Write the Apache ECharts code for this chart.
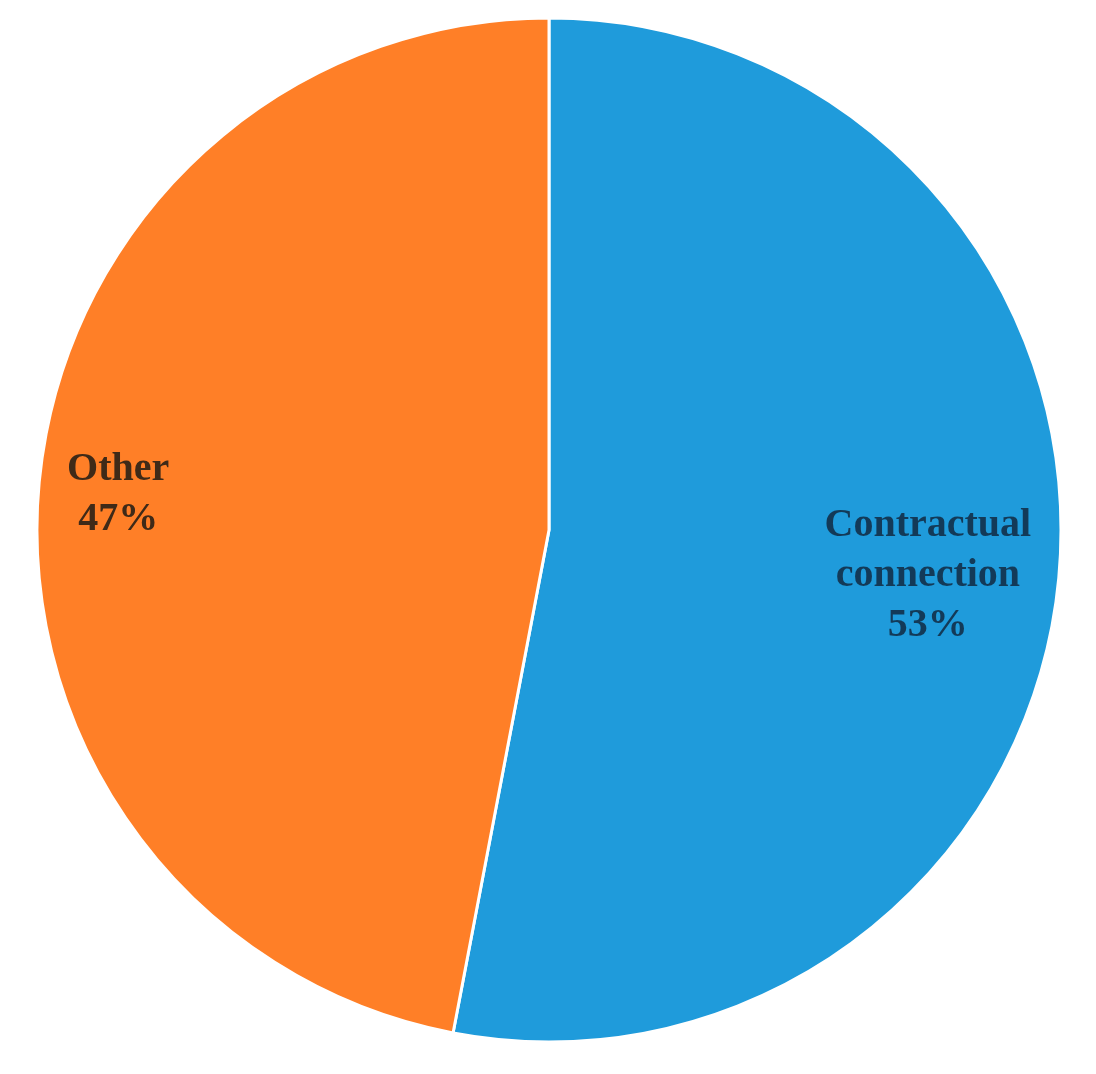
<!DOCTYPE html>
<html>
<head>
<meta charset="utf-8">
<script src="https://cdn.jsdelivr.net/npm/echarts@6/dist/echarts.min.js"></script>
<style>
  html, body { margin: 0; padding: 0; background: #fff; }
  #chart { width: 1096px; height: 1074px; }
</style>
</head>
<body>
<div id="chart"></div>
<script>
  // 饼图数据
  var categories = ['Contractual\nconnection', 'Other'];
  var shares = [53, 47];
  var colorList = ['#1f9bdb', '#ff7f27'];
  var labelColors = ['#133a58', '#3f2a18'];
  // 标签偏移（相对于扇区内部默认位置）
  var labelOffsets = [[121, 21], [-173, -11]];

  var chart = echarts.init(document.getElementById('chart'));

  var seriesData = categories.map(function (name, i) {
    return {
      name: name,
      value: shares[i],
      itemStyle: { color: colorList[i] },
      label: { color: labelColors[i], offset: labelOffsets[i] }
    };
  });

  chart.setOption({
    animation: false,
    series: [{
      type: 'pie',
      center: [549, 530],
      radius: [0, 512],
      startAngle: 90,
      clockwise: true,
      data: seriesData,
      itemStyle: {
        borderColor: '#ffffff',
        borderWidth: 3
      },
      label: {
        show: true,
        position: 'inside',
        fontFamily: 'Liberation Serif',
        fontWeight: 'bold',
        fontSize: 40,
        lineHeight: 50,
        align: 'center',
        formatter: function (p) {
          return p.name + '\n' + p.value + '%';
        }
      },
      labelLine: { show: false },
      emphasis: { disabled: true }
    }]
  });
</script>
</body>
</html>
